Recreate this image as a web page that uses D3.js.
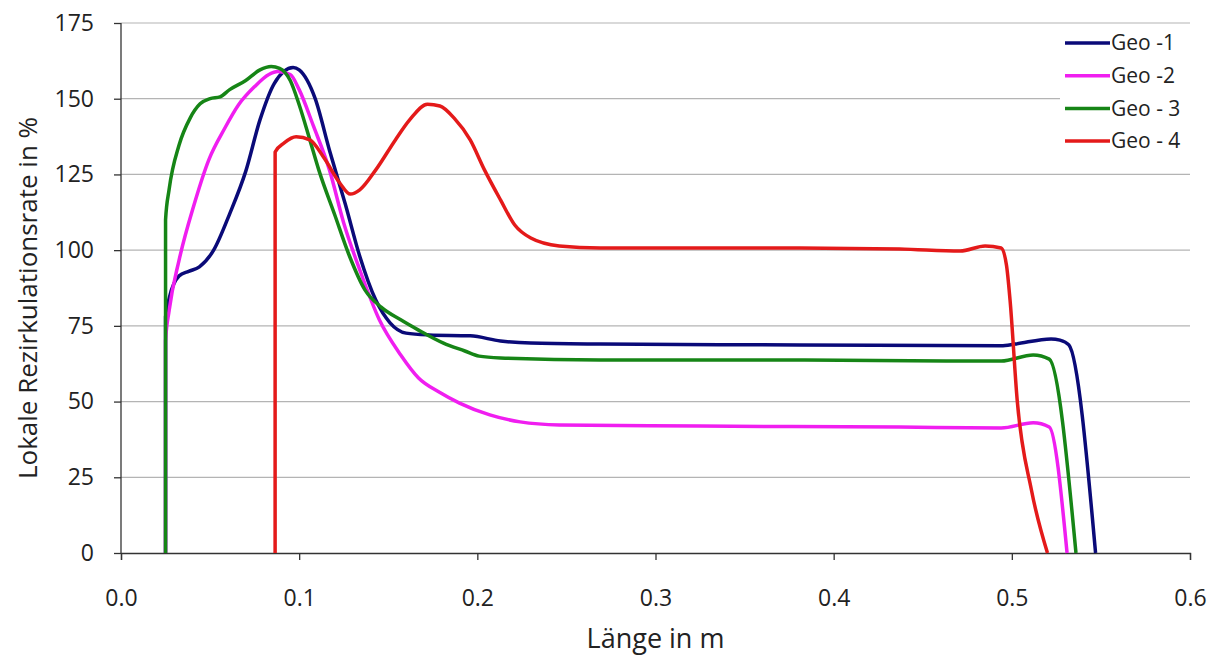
<!DOCTYPE html>
<head>
  <meta charset="utf-8">
  <script src="https://d3js.org/d3.v7.min.js"></script>
  <style>
    body { margin:0; background:#fff; }
    text { font-family: "Open Sans", "Noto Sans", sans-serif; fill:#222; }
  </style>
</head>
<body>
<script>
  var width = 1218, height = 655;
  var margin = {top: 23, right: 28, bottom: 102, left: 121};

  var xTicks = [0, 0.1, 0.2, 0.3, 0.4, 0.5, 0.6];
  var yTicks = [0, 25, 50, 75, 100, 125, 150, 175];
  var names = ["Geo -1", "Geo -2", "Geo - 3", "Geo - 4"];
  var colors = ["#0a0a78", "#f01ef0", "#168516", "#e41a1a"];

  // [x in m, rate in %]
  var geo1 = [[0.025,0],[0.02501,78],[0.027,84],[0.0326,91.5],[0.038,93],[0.044,94.5],[0.052,100],[0.061,112],
    [0.070,126],[0.078,143],[0.086,155],[0.0966,160.3],[0.1,159.5],[0.109,150],[0.117,133],[0.126,115],
    [0.134,98],[0.143,83.5],[0.151,76],[0.160,72.6],[0.173,72],[0.196,71.7],[0.213,70],[0.23,69.3],
    [0.269,69],[0.381,68.7],[0.494,68.4],[0.502,69],[0.522,70.7],[0.527,70.3],[0.532,68.7],[0.547,0]];
  var geo2 = [[0.025,0],[0.02501,70],[0.027,80],[0.0326,96.7],[0.041,115],[0.0494,130],[0.058,140],[0.066,148],
    [0.075,154],[0.083,158],[0.088,159],[0.095,158],[0.1,153],[0.108,141],[0.117,126.5],[0.125,109],
    [0.134,93.5],[0.145,77],[0.157,65.4],[0.167,57.8],[0.179,53],[0.19,49.5],[0.207,45.6],[0.224,43.3],
    [0.246,42.3],[0.325,41.9],[0.437,41.6],[0.494,41.3],[0.512,43],[0.521,41.6],[0.531,0]];
  var geo3 = [[0.025,0],[0.02501,110],[0.027,120],[0.0326,134.7],[0.0388,143.6],[0.0444,148.3],[0.05,150],
    [0.0556,150.6],[0.061,153],[0.07,156],[0.078,159.5],[0.0843,160.6],[0.089,160],[0.095,156],[0.1,148],
    [0.106,136.4],[0.111,126.5],[0.12,111.6],[0.128,98.4],[0.137,86.8],[0.146,81.2],[0.157,77],[0.167,73.6],
    [0.181,69.3],[0.193,66.7],[0.201,65],[0.213,64.4],[0.269,63.7],[0.381,63.7],[0.466,63.4],[0.494,63.4],
    [0.512,65.4],[0.521,64],[0.536,0]];
  var geo4 = [[0.0865,0],[0.08651,132.4],[0.0916,135.4],[0.0983,137.4],[0.106,136.4],[0.114,130.4],[0.123,122],
    [0.1287,118.5],[0.134,119.9],[0.143,126.5],[0.154,136.4],[0.162,143],[0.172,148.2],[0.179,147.6],
    [0.187,143.6],[0.196,136.4],[0.204,126.5],[0.213,116.6],[0.221,108.3],[0.230,104],[0.246,101.4],
    [0.269,100.7],[0.381,100.7],[0.437,100.4],[0.471,99.7],[0.485,101.4],[0.494,100.7],[0.497,95],
    [0.499,83.5],[0.503,50.5],[0.511,20.8],[0.52,0]];
  var series = [geo1, geo2, geo3, geo4];

  var xScale = d3.scaleLinear().domain([0, 0.6]).range([margin.left, width - margin.right]);
  var yScale = d3.scaleLinear().domain([0, 175]).range([height - margin.bottom, margin.top]);

  var svg = d3.select("body").append("svg").attr("width", width).attr("height", height);

  // horizontal gridlines
  svg.append("g").selectAll("line").data(yTicks.slice(1)).enter().append("line")
    .attr("x1", margin.left).attr("x2", width - margin.right)
    .attr("y1", function(d){ return yScale(d); }).attr("y2", function(d){ return yScale(d); })
    .attr("stroke", "#b4b4b4").attr("stroke-width", 1.2);

  // legend background hides grid
  svg.append("rect").attr("x", 1060).attr("y", 30).attr("width", 130).attr("height", 130).attr("fill", "#fff");

  var xAxis = d3.axisBottom(xScale).tickValues(xTicks).tickFormat(d3.format(".1f")).tickSize(7).tickPadding(30);
  var yAxis = d3.axisLeft(yScale).tickValues(yTicks).tickSize(7).tickPadding(20);

  var gx = svg.append("g").attr("transform", "translate(0," + yScale(0) + ")").call(xAxis);
  var gy = svg.append("g").attr("transform", "translate(" + margin.left + ",0)").call(yAxis);
  [gx, gy].forEach(function(g){
    g.selectAll("path,line").attr("stroke", "#333").attr("stroke-width", 1.3);
    g.selectAll("text").style("font-size", "23px").attr("fill", "#222");
  });
  gy.select(".domain").attr("d", "M0," + yScale(0) + "V" + yScale(175));

  var line = d3.line()
    .x(function(d){ return xScale(d[0]); })
    .y(function(d){ return yScale(d[1]); })
    .curve(d3.curveMonotoneX);

  svg.append("g").selectAll("path").data(series).enter().append("path")
    .attr("d", line)
    .attr("fill", "none")
    .attr("stroke", function(d, i){ return colors[i]; })
    .attr("stroke-width", 3.5)
    .attr("stroke-linejoin", "round");

  // legend
  var lg = svg.append("g").selectAll("g").data(names).enter().append("g")
    .attr("transform", function(d, i){ return "translate(1065," + (43 + i * 32.7) + ")"; });
  lg.append("line").attr("x1", 0).attr("x2", 45)
    .attr("stroke", function(d, i){ return colors[i]; }).attr("stroke-width", 3.5);
  lg.append("text").attr("x", 46).attr("dy", "0.35em").style("font-size", "21px").text(function(d){ return d; });

  // axis titles
  svg.append("text").attr("x", (margin.left + width - margin.right) / 2).attr("y", 648)
    .attr("text-anchor", "middle").style("font-size", "27px").text("Länge in m");
  svg.append("text").attr("transform", "translate(37," + 298 + ") rotate(-90)")
    .attr("text-anchor", "middle").style("font-size", "26px").text("Lokale Rezirkulationsrate in %");
</script>
</body>
